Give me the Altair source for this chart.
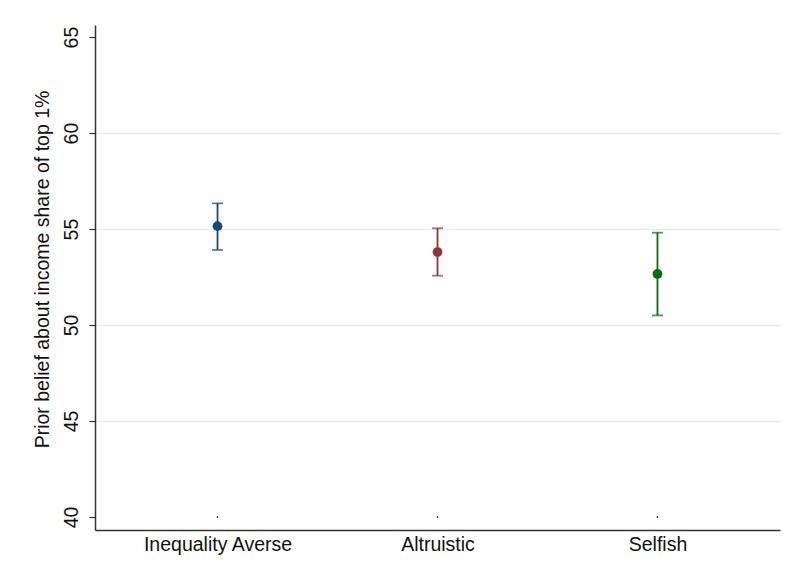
import altair as alt
import pandas as pd

categories = ["Inequality Averse", "Altruistic", "Selfish"]
means = [55.15, 53.80, 52.66]
ci_low = [53.91, 52.57, 50.50]
ci_high = [56.34, 55.04, 54.81]
floor_marks = [40, 40, 40]
colors = ["#1a476f", "#90353b", "#0a6a12"]
y_ticks = [40, 45, 50, 55, 60, 65]

df = pd.DataFrame({
    "group": categories,
    "mean": means,
    "lo": ci_low,
    "hi": ci_high,
    "floor": floor_marks,
})

FONT = "Liberation Sans"
FS = 19.5

x_enc = alt.X(
    "group:N",
    sort=categories,
    scale=alt.Scale(type="point", padding=0.557),
    axis=alt.Axis(
        title=None, ticks=False, grid=False, labelAngle=0,
        labelFontSize=FS, labelColor="#111", labelPadding=5,
        domainColor="#333", domainWidth=1.5, labelFont=FONT,
    ),
)

y_scale = alt.Scale(domain=[39.32, 65.63], nice=False, zero=False)
y_axis = alt.Axis(
    title="Prior belief about income share of top 1%",
    values=y_ticks,
    labelAngle=270,
    labelAlign="center",
    labelBaseline="bottom",
    labelFontSize=FS,
    labelColor="#111",
    labelPadding=8,
    labelFont=FONT,
    tickSize=6,
    tickColor="#333",
    tickWidth=1.2,
    domainColor="#333",
    domainWidth=1.5,
    grid=True,
    gridColor="#e6eef0",
    gridWidth=1.5,
    gridOpacity={"condition": {"test": "datum.value === 40 || datum.value === 65", "value": 0}, "value": 1},
    titleFont=FONT,
    titleFontSize=FS,
    titleFontWeight="normal",
    titleColor="#111",
    titleAngle=270,
    titleX=-53,
    titleY=244,
    titleAlign="center",
    titleBaseline="middle",
)

color_enc = alt.Color(
    "group:N",
    scale=alt.Scale(domain=categories, range=colors),
    legend=None,
)

base = alt.Chart(df)

rules = base.mark_rule(strokeWidth=1.8).encode(
    x=x_enc,
    y=alt.Y("lo:Q", scale=y_scale, axis=y_axis),
    y2="hi:Q",
    color=color_enc,
)

caps_lo = base.mark_tick(size=11, thickness=1.8).encode(
    x=alt.X("group:N", sort=categories),
    y=alt.Y("lo:Q"),
    color=color_enc,
)
caps_hi = base.mark_tick(size=11, thickness=1.8).encode(
    x=alt.X("group:N", sort=categories),
    y=alt.Y("hi:Q"),
    color=color_enc,
)

points = base.mark_point(filled=True, size=95, opacity=1).encode(
    x=alt.X("group:N", sort=categories),
    y=alt.Y("mean:Q"),
    color=color_enc,
)

floor_pts = base.mark_point(filled=True, size=3, color="#222", opacity=1).encode(
    x=alt.X("group:N", sort=categories),
    y=alt.Y("floor:Q"),
)

chart = alt.layer(rules, caps_lo, caps_hi, points, floor_pts).properties(
    width=685,
    height=505,
    autosize=alt.AutoSizeParams(type="none"),
    padding={"left": 95, "top": 25, "right": 8, "bottom": 46},
    background="white",
).configure_view(stroke=None)

chart.save("out.html", embed_options={"renderer": "svg", "actions": False})
